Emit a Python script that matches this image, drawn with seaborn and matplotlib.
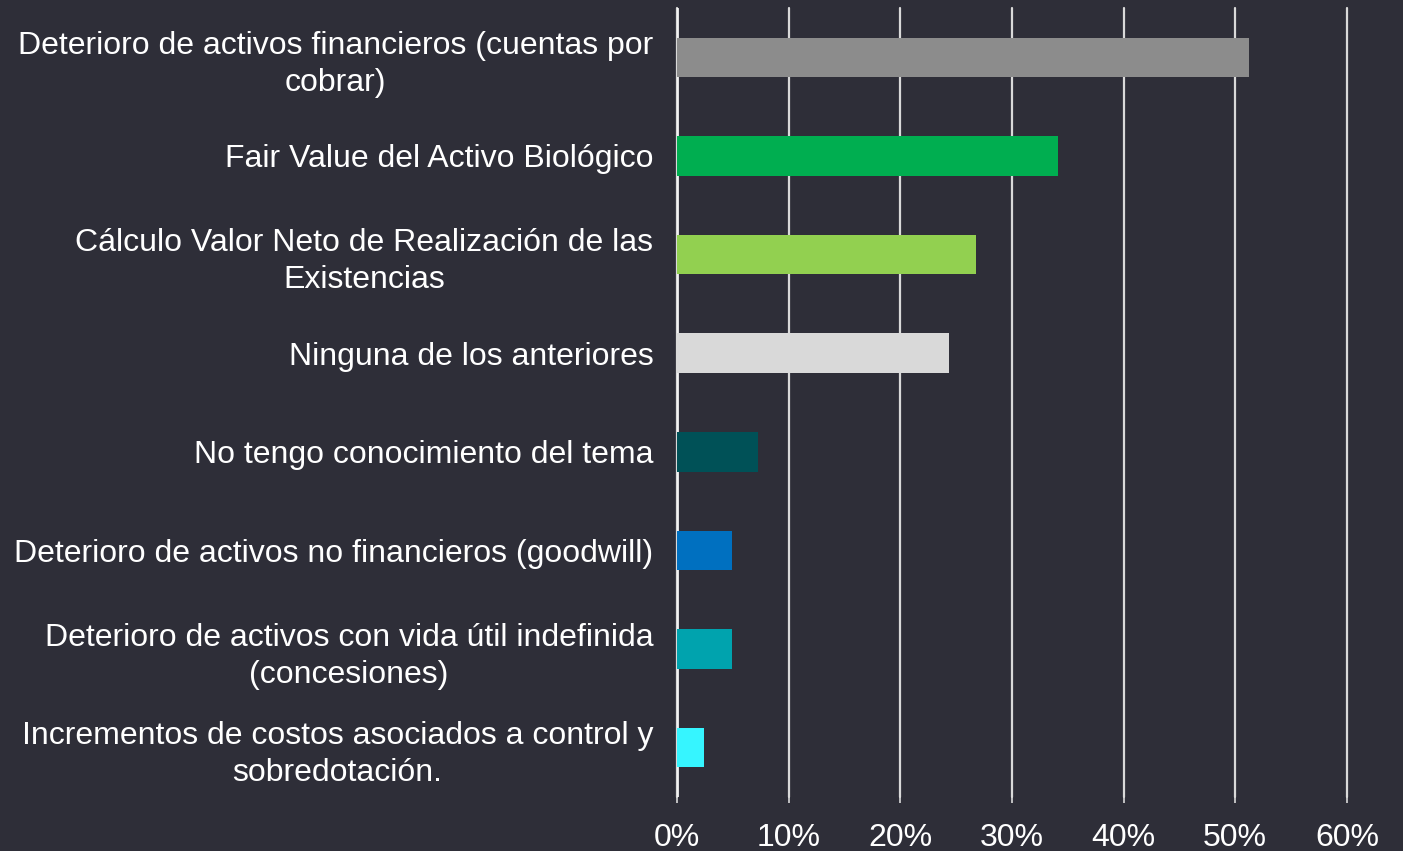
import matplotlib
matplotlib.use("Agg")
import matplotlib.pyplot as plt
import pandas as pd
import seaborn as sns

categories = [
    "Deterioro de activos financieros (cuentas por\ncobrar)",
    "Fair Value del Activo Biológico",
    "Cálculo Valor Neto de Realización de las\nExistencias",
    "Ninguna de los anteriores",
    "No tengo conocimiento del tema",
    "Deterioro de activos no financieros (goodwill)",
    "Deterioro de activos con vida útil indefinida\n(concesiones)",
    "Incrementos de costos asociados a control y\nsobredotación.",
]
values = [51.2, 34.1, 26.8, 24.4, 7.3, 4.9, 4.9, 2.4]
colors = ["#8C8C8C", "#00AE50", "#92D050", "#D9D9D9", "#005157", "#0070C0", "#00A3AE", "#36F5FF"]
xticks = [0, 10, 20, 30, 40, 50, 60]

bg = "#2E2E38"
sns.set_theme(style="white")
plt.rcParams["font.family"] = ["Liberation Sans", "DejaVu Sans"]

df = pd.DataFrame({"categoria": categories, "valor": values})

fig = plt.figure(figsize=(14.03, 8.51), dpi=100, facecolor=bg)
ax = fig.add_axes([0.4825, 0.0634, 0.4775, 0.9272])
ax.set_facecolor(bg)

sns.barplot(data=df, x="valor", y="categoria", hue="categoria", palette=colors,
            width=0.4, legend=False, ax=ax, zorder=3, saturation=1, linewidth=0)

ax.set_xlim(0, 60)
ax.set_ylim(7.5, -0.5)
ax.set_xticks(xticks)
ax.set_xticklabels([f"{t}%" for t in xticks], color="white", fontsize=23)
ax.xaxis.grid(True, color="#D9D9D9", linewidth=1.6, zorder=0)
for gl in ax.get_xgridlines():
    gl.set_clip_on(False)
ax.yaxis.grid(False)
ax.axvline(0, color="#F2F2F2", linewidth=2, zorder=2)
ax.tick_params(axis="x", length=4.5, width=1.2, color="#D9D9D9", pad=14, bottom=True)
ax.tick_params(axis="y", length=0, pad=17)
for lab in ax.get_yticklabels():
    lab.set_color("white")
    lab.set_fontsize(23)
    lab.set_multialignment("center")
    lab.set_linespacing(1.3)
for s in ax.spines.values():
    s.set_visible(False)
ax.set_xlabel("")
ax.set_ylabel("")

fig.savefig("out.png", dpi=100, facecolor=bg)
